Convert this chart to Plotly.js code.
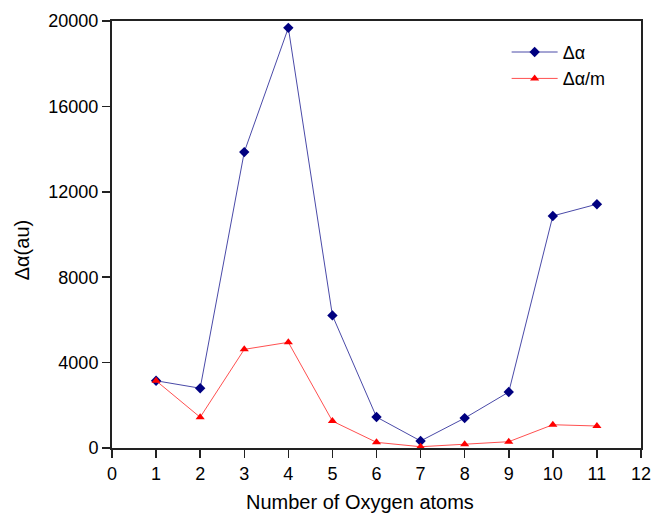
<!DOCTYPE html>
<html>
<head>
<meta charset="utf-8">
<script src="https://cdn.plot.ly/plotly-3.0.1.min.js"></script>
<style>html,body{margin:0;padding:0;background:#fff;}#chart{width:655px;height:515px;}</style>
</head>
<body>
<div id="chart"></div>
<script>
const oxygenAtoms = [1, 2, 3, 4, 5, 6, 7, 8, 9, 10, 11];
const deltaAlpha = [3150, 2800, 13860, 19680, 6210, 1450, 330, 1400, 2620, 10870, 11420];
const deltaAlphaPerM = [3150, 1440, 4620, 4950, 1260, 265, 60, 170, 295, 1090, 1030];
const xTicks = [0, 1, 2, 3, 4, 5, 6, 7, 8, 9, 10, 11, 12];
const yTicks = [0, 4000, 8000, 12000, 16000, 20000];

const font = "Arial, 'Liberation Sans', sans-serif";

const traces = [
  {
    x: oxygenAtoms, y: deltaAlpha, name: 'Δα', type: 'scatter', mode: 'lines+markers',
    line: {color: '#4a4aa8', width: 1},
    marker: {symbol: 'diamond', size: 8, color: '#000080'}
  },
  {
    x: oxygenAtoms, y: deltaAlphaPerM, name: 'Δα/m', type: 'scatter', mode: 'lines+markers',
    line: {color: '#ff5050', width: 1},
    marker: {symbol: 'triangle-up', size: 8, color: '#ff0000'}
  }
];

const layout = {
  width: 655, height: 515,
  margin: {l: 112, r: 14, t: 21, b: 67},
  paper_bgcolor: '#fff', plot_bgcolor: '#fff',
  font: {family: font, size: 18, color: '#000'},
  showlegend: true,
  legend: {
    x: 0.746, y: 0.97, xanchor: 'left', yanchor: 'top',
    bgcolor: 'rgba(0,0,0,0)', borderwidth: 0,
    font: {family: font, size: 18, color: '#000'},
    itemwidth: 46, tracegroupgap: 0
  },
  xaxis: {
    range: [0, 12], tickvals: xTicks, ticktext: xTicks.map(String),
    showgrid: false, zeroline: false,
    showline: true, linecolor: '#222', linewidth: 2, mirror: true,
    ticks: 'outside', ticklen: 8, tickwidth: 1.5, tickcolor: '#222',
    tickfont: {family: font, size: 18, color: '#000'}
  },
  yaxis: {
    range: [0, 20000], tickvals: yTicks, ticktext: yTicks.map(String),
    showgrid: false, zeroline: false,
    showline: true, linecolor: '#222', linewidth: 2, mirror: true,
    ticks: 'outside', ticklen: 8, tickwidth: 1.5, tickcolor: '#222',
    tickfont: {family: font, size: 18, color: '#000'}
  },
  annotations: [
    {text: 'Number of Oxygen atoms', xref: 'paper', yref: 'paper', x: 0.469, y: 0,
     yshift: -54, xanchor: 'center', yanchor: 'middle', showarrow: false,
     font: {family: font, size: 20, color: '#000'}},
    {text: 'Δα(au)', xref: 'paper', yref: 'paper', x: 0, xshift: -90, y: 0.463,
     xanchor: 'center', yanchor: 'middle', textangle: -90, showarrow: false,
     font: {family: font, size: 20, color: '#000'}}
  ]
};

Plotly.newPlot('chart', traces, layout, {displayModeBar: false, staticPlot: true});
</script>
</body>
</html>
